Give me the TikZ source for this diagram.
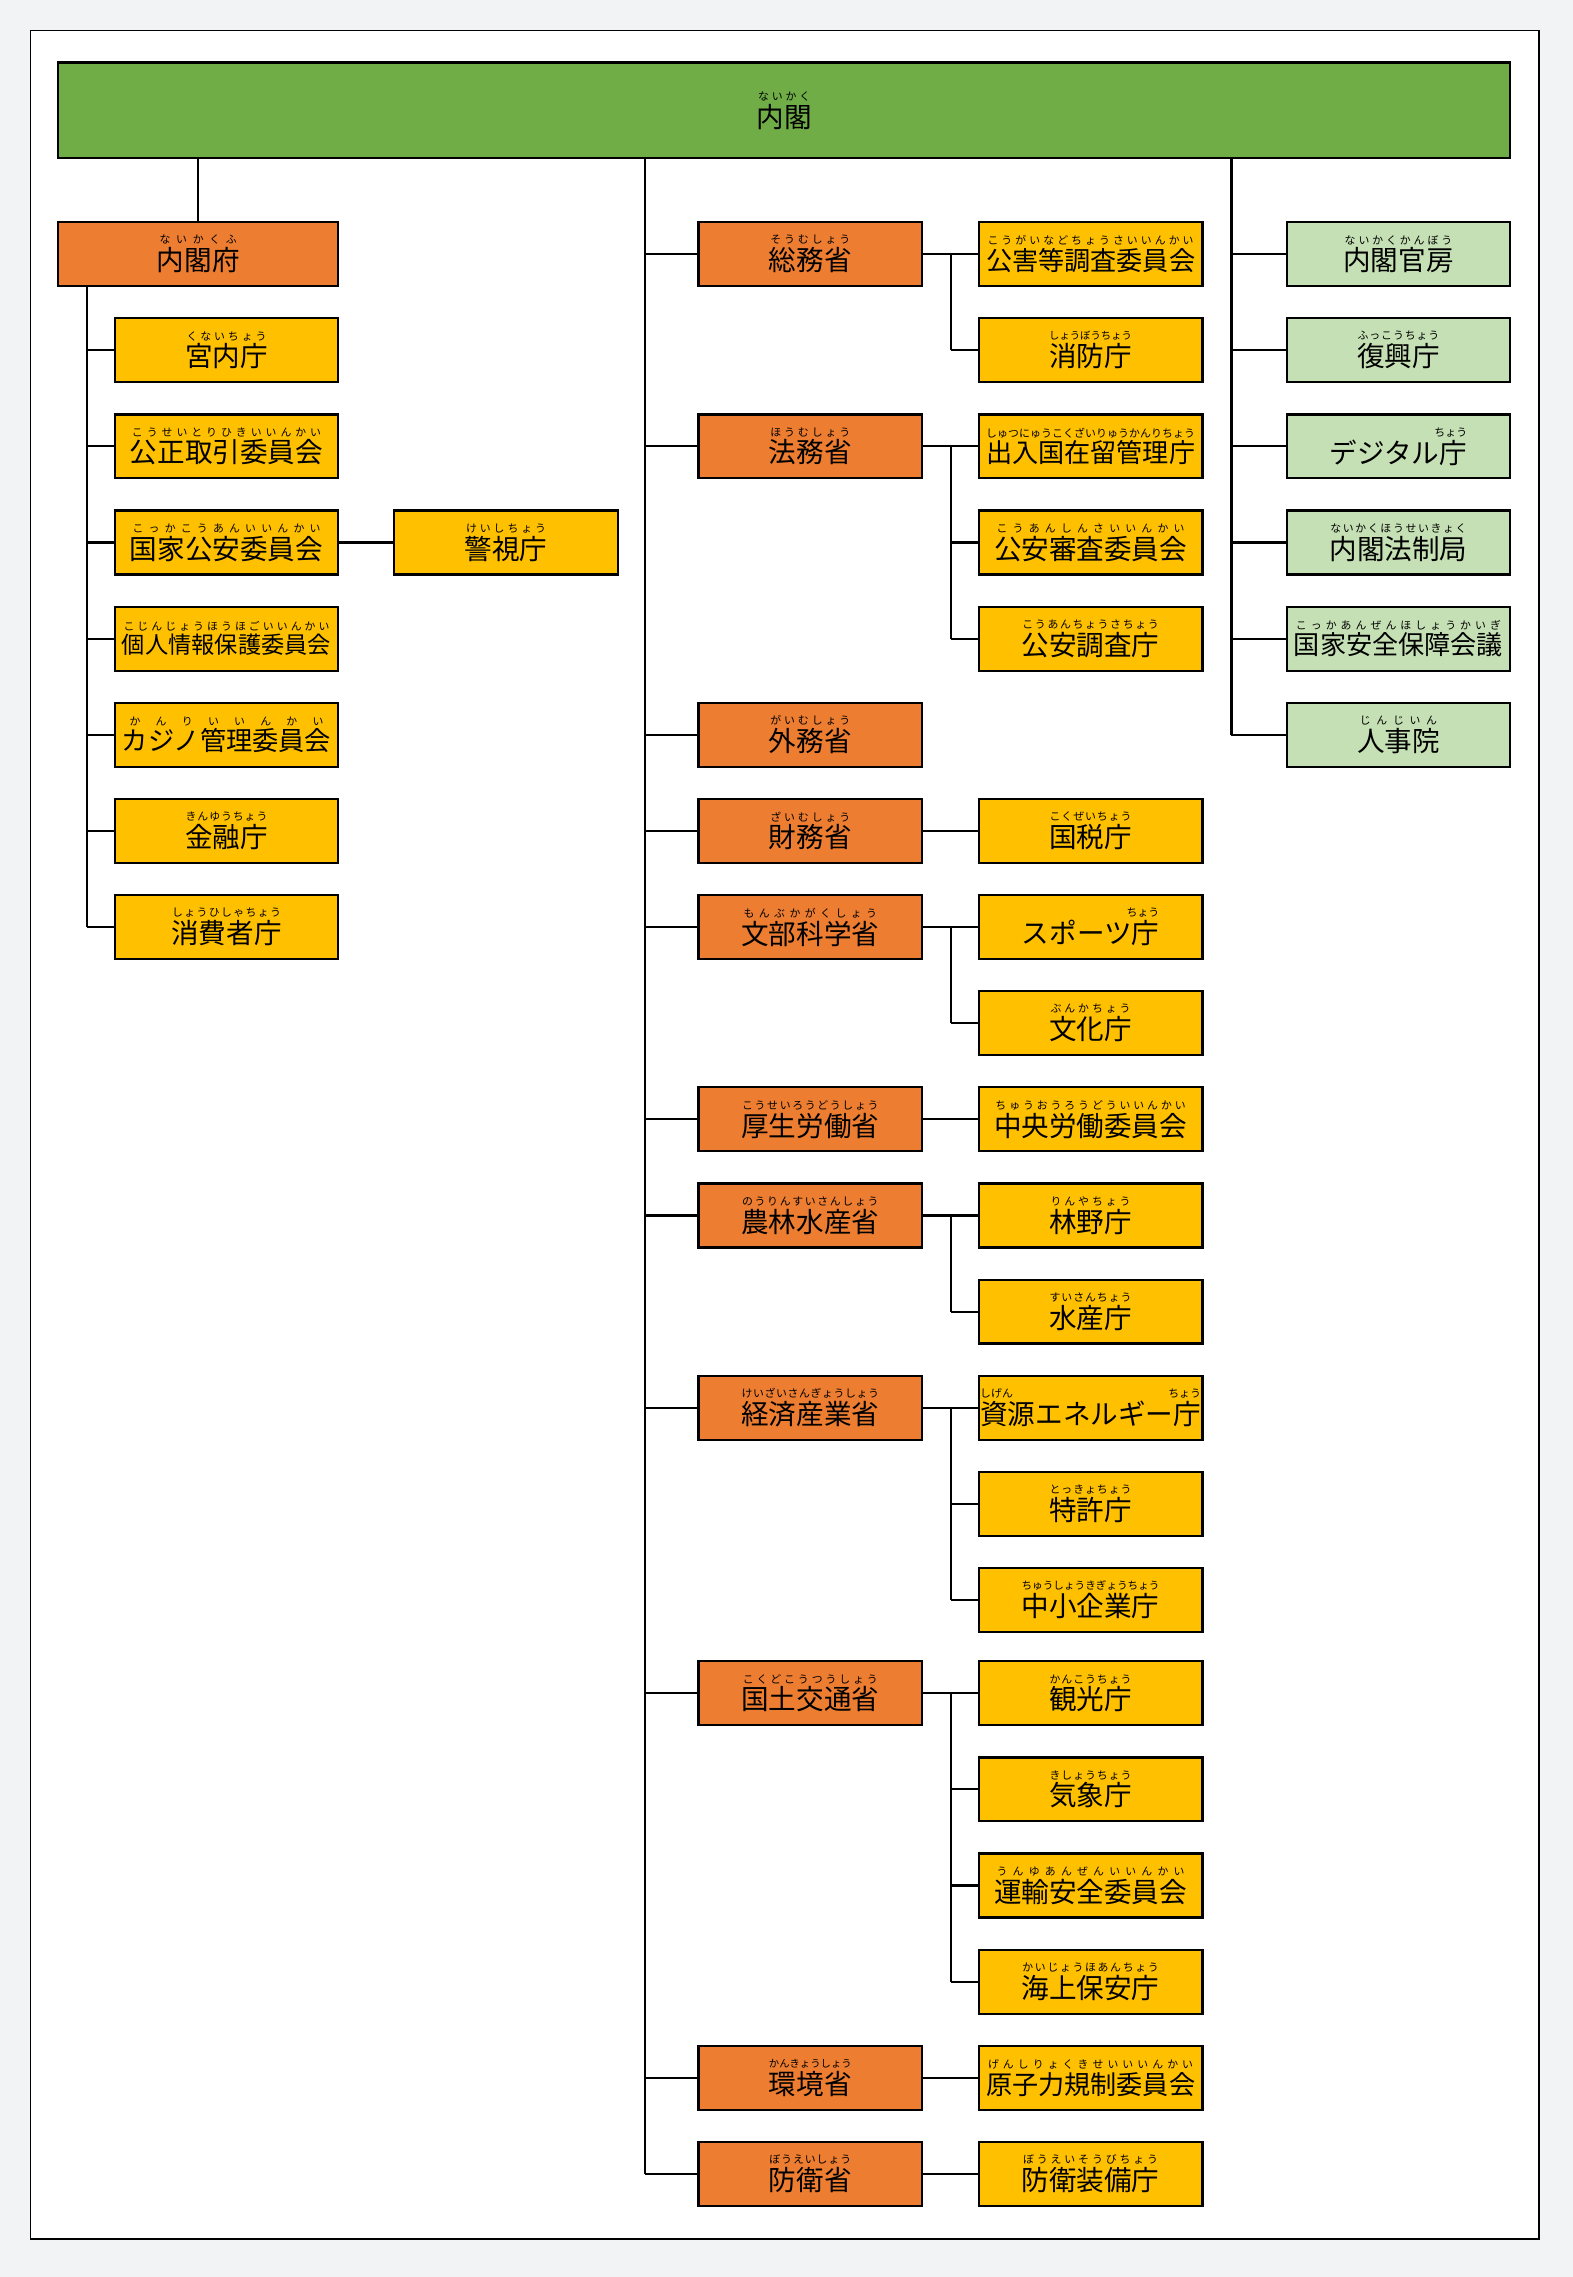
\documentclass[tikz,border=0pt]{standalone}
\usepackage{fontspec}
\usepackage{graphicx}
\setmainfont{Noto Sans CJK JP}
\definecolor{cab}{HTML}{70AD47}
\definecolor{min}{HTML}{ED7D31}
\definecolor{agy}{HTML}{FFC000}
\definecolor{lg}{HTML}{C5E0B4}
\definecolor{bg}{HTML}{F2F3F5}
\makeatletter
\def\rsp#1{\ifx\relax#1\else#1\hskip 0pt plus 1fil\relax\expandafter\rsp\fi}
\newcommand\rb[2]{%
 \setbox0\hbox{\fontsize{19}{19}\selectfont #2}%
 \ifdim\wd0>144pt \setbox2\hbox{\resizebox{144pt}{!}{\copy0}}\setbox0\box2 \fi
 \setbox2\hbox{\fontsize{7.5}{8}\selectfont\rsp#1\relax}%
 \ifdim\wd2>\wd0 \setbox4\hbox{\resizebox{\wd0}{!}{\copy2}}%
 \else \setbox4\hbox to\wd0{\fontsize{7.5}{8}\selectfont\hskip 0pt plus .5fil\rsp#1\relax\hskip 0pt plus -.5fil}\fi
 \vbox{\box4\kern1pt\box0}}
\newcommand\rbx[3]{%
 \setbox0\hbox{\fontsize{19}{19}\selectfont #3}%
 \vbox{\hbox to\wd0{\fontsize{7.5}{8}\selectfont #1\hfill #2}\kern1pt\box0}}
\makeatother
\tikzset{
 bx/.style={draw,line width=1.5pt,minimum width=154pt,minimum height=44pt,inner sep=0pt,text=black},
 ag/.style={bx,fill=agy},
 mn/.style={bx,fill=min},
 rt/.style={bx,fill=lg},
 ln/.style={line width=1.5pt}
}
\begin{document}
\begin{tikzpicture}[x=1pt,y=-1pt]
\fill[bg] (0,0) rectangle (1083,1568);
\useasboundingbox (0,0) rectangle (1083,1568);
\draw[fill=white,line width=1.2pt] (21,21) rectangle (1060,1542);
\node[bx,fill=cab,minimum width=1000pt,minimum height=66pt] (nk) at (540,76) {\rb{ないかく}{内閣}};
% left
\node[mn,minimum width=193pt] (nkf) at (136.5,175) {\rb{ないかくふ}{内閣府}};
\node[ag] (l1) at (156,241.2) {\rb{くないちょう}{宮内庁}};
\node[ag] (l2) at (156,307.4) {\rb{こうせいとりひきいいんかい}{公正取引委員会}};
\node[ag] (l3) at (156,373.6) {\rb{こっかこうあんいいんかい}{国家公安委員会}};
\node[ag] (l3a) at (348.5,373.6) {\rb{けいしちょう}{警視庁}};
\node[ag] (l4) at (156,439.8) {\rb{こじんじょうほうほごいいんかい}{個人情報保護委員会}};
\node[ag] (l5) at (156,506) {\rb{かんりいいんかい}{カジノ管理委員会}};
\node[ag] (l6) at (156,572.2) {\rb{きんゆうちょう}{金融庁}};
\node[ag] (l7) at (156,638.4) {\rb{しょうひしゃちょう}{消費者庁}};
\coordinate (lt) at (60,197);
\draw[ln] (nk.south -| nkf.north) -- (nkf.north);
\draw[ln] (lt) -- (lt |- l7.west);
\foreach \n in {l1,l2,l3,l4,l5,l6,l7} \draw[ln] (lt |- \n.west) -- (\n.west);
\draw[ln] (l3.east) -- (l3a.west);
% middle
\coordinate (mt) at (444,109);
\coordinate (rtk) at (848,109);
\node[mn] (m1) at (558,175) {\rb{そうむしょう}{総務省}};
\node[mn] (m2) at (558,307.4) {\rb{ほうむしょう}{法務省}};
\node[mn] (m3) at (558,506) {\rb{がいむしょう}{外務省}};
\node[mn] (m4) at (558,572.2) {\rb{ざいむしょう}{財務省}};
\node[mn] (m5) at (558,638.4) {\rb{もんぶかがくしょう}{文部科学省}};
\node[mn] (m6) at (558,770.8) {\rb{こうせいろうどうしょう}{厚生労働省}};
\node[mn] (m7) at (558,837) {\rb{のうりんすいさんしょう}{農林水産省}};
\node[mn] (m8) at (558,969.4) {\rb{けいざいさんぎょうしょう}{経済産業省}};
\node[mn] (m9) at (558,1166) {\rb{こくどこうつうしょう}{国土交通省}};
\node[mn] (m10) at (558,1431) {\rb{かんきょうしょう}{環境省}};
\node[mn] (m11) at (558,1497) {\rb{ぼうえいしょう}{防衛省}};
\draw[ln] (mt) -- (mt |- m11.west);
\foreach \n in {m1,m2,m3,m4,m5,m6,m7,m8,m9,m10,m11} \draw[ln] (mt |- \n.west) -- (\n.west);
% agencies
\node[ag] (a1) at (751,175) {\rb{こうがいなどちょうさいいんかい}{公害等調査委員会}};
\node[ag] (a2) at (751,241.2) {\rb{しょうぼうちょう}{消防庁}};
\node[ag] (a3) at (751,307.4) {\rb{しゅつにゅうこくざいりゅうかんりちょう}{出入国在留管理庁}};
\node[ag] (a4) at (751,373.6) {\rb{こうあんしんさいいんかい}{公安審査委員会}};
\node[ag] (a5) at (751,439.8) {\rb{こうあんちょうさちょう}{公安調査庁}};
\node[ag] (a6) at (751,572.2) {\rb{こくぜいちょう}{国税庁}};
\node[ag] (a7) at (751,638.4) {\rbx{}{ちょう}{スポーツ庁}};
\node[ag] (a8) at (751,704.6) {\rb{ぶんかちょう}{文化庁}};
\node[ag] (a9) at (751,770.8) {\rb{ちゅうおうろうどういいんかい}{中央労働委員会}};
\node[ag] (a10) at (751,837) {\rb{りんやちょう}{林野庁}};
\node[ag] (a11) at (751,903.2) {\rb{すいさんちょう}{水産庁}};
\node[ag] (a12) at (751,969.4) {\rbx{しげん}{ちょう}{資源エネルギー庁}};
\node[ag] (a13) at (751,1035.6) {\rb{とっきょちょう}{特許庁}};
\node[ag] (a14) at (751,1101.8) {\rb{ちゅうしょうきぎょうちょう}{中小企業庁}};
\node[ag] (a15) at (751,1166) {\rb{かんこうちょう}{観光庁}};
\node[ag] (a16) at (751,1232.2) {\rb{きしょうちょう}{気象庁}};
\node[ag] (a17) at (751,1298.4) {\rb{うんゆあんぜんいいんかい}{運輸安全委員会}};
\node[ag] (a18) at (751,1364.6) {\rb{かいじょうほあんちょう}{海上保安庁}};
\node[ag] (a19) at (751,1431) {\rb{げんしりょくきせいいいんかい}{原子力規制委員会}};
\node[ag] (a20) at (751,1497) {\rb{ぼうえいそうびちょう}{防衛装備庁}};
\coordinate (bx) at (655,0);
\foreach \m/\a in {m1/a1,m2/a3,m4/a6,m5/a7,m6/a9,m7/a10,m8/a12,m9/a15,m10/a19,m11/a20} \draw[ln] (\m.east) -- (\a.west);
\foreach \a/\b in {a1/a2,a3/a5,a7/a8,a10/a11,a12/a14,a15/a18} \draw[ln] (bx |- \a.west) -- (bx |- \b.west);
\foreach \a in {a2,a4,a5,a8,a11,a13,a14,a16,a17,a18} \draw[ln] (bx |- \a.west) -- (\a.west);
% right
\node[rt] (r1) at (963,175) {\rb{ないかくかんぼう}{内閣官房}};
\node[rt] (r2) at (963,241.2) {\rb{ふっこうちょう}{復興庁}};
\node[rt] (r3) at (963,307.4) {\rbx{}{ちょう}{デジタル庁}};
\node[rt] (r4) at (963,373.6) {\rb{ないかくほうせいきょく}{内閣法制局}};
\node[rt] (r5) at (963,439.8) {\rb{こっかあんぜんほしょうかいぎ}{国家安全保障会議}};
\node[rt] (r6) at (963,506) {\rb{じんじいん}{人事院}};
\draw[ln] (rtk) -- (rtk |- r6.west);
\foreach \n in {r1,r2,r3,r4,r5,r6} \draw[ln] (rtk |- \n.west) -- (\n.west);
\end{tikzpicture}
\end{document}
